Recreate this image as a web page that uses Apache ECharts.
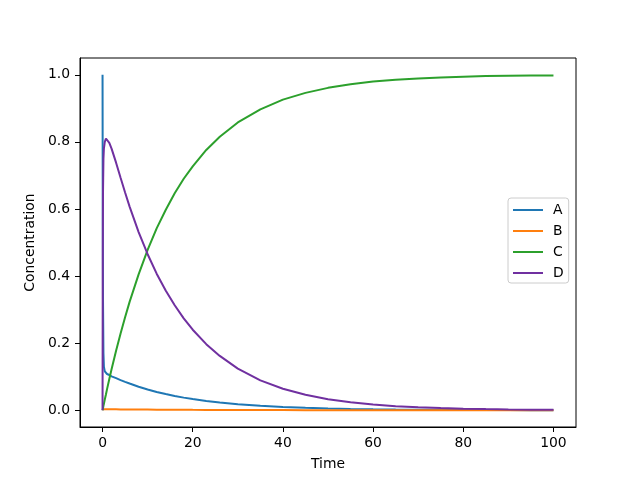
<!DOCTYPE html>
<html>
<head>
<meta charset="utf-8">
<script src="https://cdn.jsdelivr.net/npm/echarts@6/dist/echarts.min.js"></script>
<style>html,body{margin:0;padding:0;background:#fff}#c{width:640px;height:480px}</style>
</head>
<body>
<div id="c"></div>
<script>
var times = [0,0.05,0.1,0.2,0.3,0.5,0.75,1,1.5,2,3,4,5,6,8,10,12,14,16,18,20,23,26,30,35,40,45,50,55,60,65,70,75,80,85,90,95,100];
var seriesA = [1.0,0.55,0.33,0.17,0.13,0.116,0.111,0.108,0.105,0.101,0.0955,0.0899,0.0846,0.0795,0.0700,0.0619,0.0546,0.0482,0.0426,0.0376,0.0332,0.0276,0.0229,0.0179,0.0131,0.0096,0.0071,0.0052,0.0038,0.0028,0.0020,0.0015,0.0011,0.0008,0.0006,0.0004,0.0003,0.0002];
var seriesB = [0.003,0.003,0.003,0.003,0.003,0.003,0.003,0.0029,0.0029,0.0027,0.0026,0.0025,0.0023,0.0022,0.0020,0.0018,0.0016,0.0015,0.0013,0.0012,0.0011,0.0010,0.0008,0.0007,0.0005,0.0004,0.0003,0.0002,0.0002,0.0001,0.0001,0.0001,0,0,0,0,0,0];
var seriesC = [0,0.003,0.006,0.013,0.019,0.032,0.047,0.063,0.093,0.122,0.177,0.229,0.277,0.323,0.405,0.478,0.542,0.597,0.647,0.690,0.727,0.776,0.815,0.858,0.897,0.926,0.946,0.961,0.972,0.980,0.985,0.989,0.992,0.994,0.996,0.997,0.998,0.998];
var seriesD = [0,0.45,0.65,0.75,0.78,0.80,0.81,0.809,0.797,0.780,0.738,0.693,0.649,0.607,0.531,0.465,0.407,0.357,0.313,0.274,0.240,0.197,0.162,0.124,0.089,0.064,0.046,0.033,0.024,0.017,0.012,0.0089,0.0063,0.0046,0.0033,0.0024,0.0017,0.0012];
var names = ['A','B','C','D'];
var colors = ['#1f77b4','#ff7f0e','#2ca02c','#7030a0'];
var xTicks = [0,20,40,60,80,100];
var yTicks = [0,0.2,0.4,0.6,0.8,1.0];

var allData = [seriesA, seriesB, seriesC, seriesD];
var font = 'DejaVu Sans';
var chart = echarts.init(document.getElementById('c'), null, {renderer:'canvas'});
chart.setOption({
  animation:false,
  backgroundColor:'#fff',
  grid:{left:80,right:64,top:58,bottom:53,show:true,borderColor:'#000',borderWidth:1,backgroundColor:'transparent'},
  legend:{
    orient:'vertical', left:508, top:198,
    data:names,
    icon:'path://M0,0 L30,0 L30,2 L0,2 Z',
    itemWidth:30, itemHeight:14, itemGap:7,
    padding:[5,5,3,5],
    borderColor:'#cccccc', borderWidth:1, borderRadius:3,
    backgroundColor:'rgba(255,255,255,0.8)',
    textStyle:{fontFamily:font,fontSize:13.9,color:'#000',padding:[0,0,0,5]}
  },
  xAxis:{
    type:'value', min:-5, max:105,
    name:'Time', nameLocation:'middle', nameGap:30,
    nameTextStyle:{fontFamily:font,fontSize:13.9,color:'#000'},
    axisLine:{show:true,onZero:false,lineStyle:{color:'#000',width:1}},
    axisTick:{show:true,length:5,lineStyle:{color:'#000',width:1},customValues:xTicks},
    axisLabel:{show:true,margin:9,fontFamily:font,fontSize:13.9,color:'#000',customValues:xTicks,formatter:function(v){return String(v);}},
    splitLine:{show:false}
  },
  yAxis:{
    type:'value', min:-0.05, max:1.05,
    name:'Concentration', nameLocation:'middle', nameGap:40,
    nameTextStyle:{fontFamily:font,fontSize:13.9,color:'#000'},
    axisLine:{show:true,onZero:false,lineStyle:{color:'#000',width:1}},
    axisTick:{show:true,length:5,lineStyle:{color:'#000',width:1},customValues:yTicks},
    axisLabel:{show:true,margin:10,fontFamily:font,fontSize:13.9,color:'#000',customValues:yTicks,formatter:function(v){return v.toFixed(1);}},
    splitLine:{show:false}
  },
  series: names.map(function(n,i){
    return {
      name:n, type:'line', symbol:'none', showSymbol:false,
      smooth:false,
      color:colors[i],
      lineStyle:{color:colors[i],width:2},
      data: times.map(function(t,j){return [t, allData[i][j]];})
    };
  })
});
</script>
</body>
</html>
